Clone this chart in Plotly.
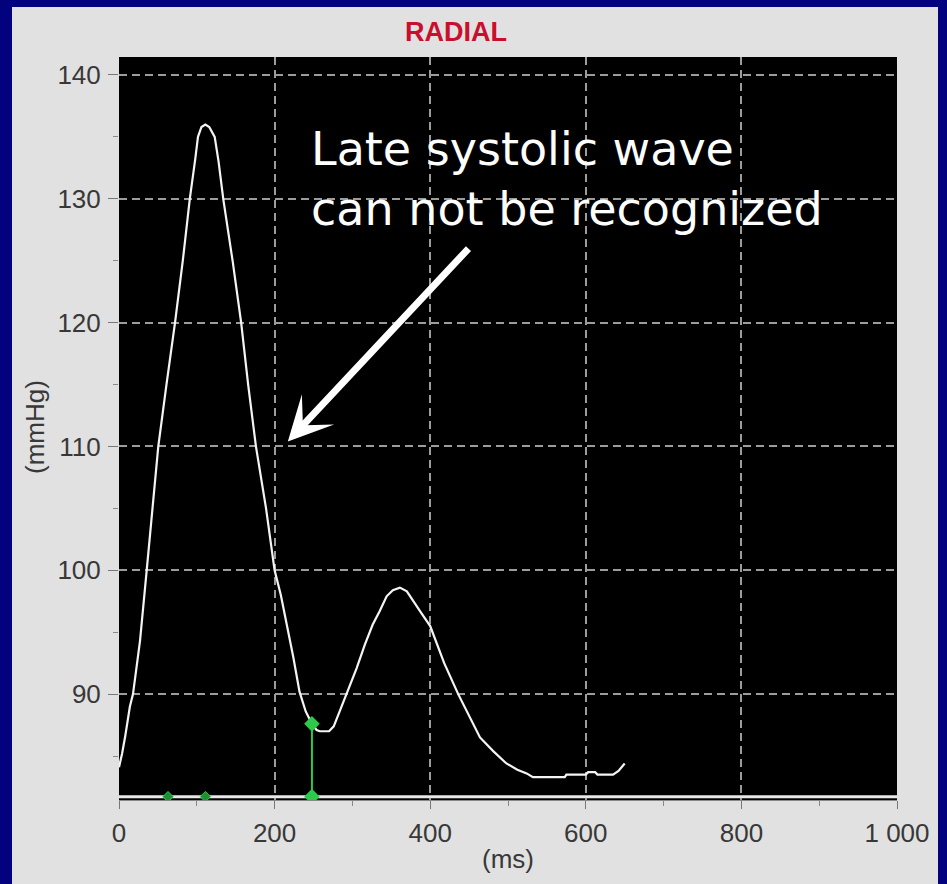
import plotly.graph_objects as go

# ---- data ----
time_ms = [0, 4, 8, 14, 18, 27, 35.6, 43, 50.5, 61, 72, 82, 91, 98, 101.5, 106, 111, 116, 123,
           128, 134, 146, 157, 166, 176, 189, 200, 208, 216, 224, 232, 240, 248, 254, 258, 270,
           276, 283, 292.6, 305.5, 316, 326, 335, 344, 352, 361, 370, 378, 388, 400, 418, 436,
           451, 464, 481, 498, 512, 524, 532, 573, 575, 600, 603, 612, 615, 635, 642, 650]
pressure = [84.1, 85.2, 86.6, 89.0, 90.0, 94.3, 100.0, 105.0, 110.0, 115.0, 120.0, 125.0, 130.0,
            133.2, 135.0, 135.8, 136.0, 135.8, 135.0, 133.0, 130.0, 125.0, 120.0, 115.0, 110.0,
            105.0, 100.0, 98.0, 95.6, 93.0, 90.2, 88.6, 87.6, 87.1, 87.0, 87.0, 87.4, 88.5, 90.0,
            92.1, 94.0, 95.6, 96.7, 97.9, 98.4, 98.6, 98.3, 97.5, 96.6, 95.5, 92.5, 90.0, 88.1,
            86.5, 85.4, 84.4, 83.9, 83.6, 83.3, 83.3, 83.5, 83.5, 83.7, 83.7, 83.5, 83.5, 83.8,
            84.4]

foot_marker_x = [248, 248]
foot_marker_y = [81.72, 87.6]
small_marker_x = [63, 111]
small_marker_y = [81.72, 81.72]
baseline_y = 81.72

x_tick_vals = [0, 200, 400, 600, 800, 1000]
x_tick_text = ["0", "200", "400", "600", "800", "1 000"]
y_tick_vals = [90, 100, 110, 120, 130, 140]

arrow_tail = (451, 126.1)
arrow_tip = (217, 110.4)
note_pos = (244, 131.6)

TICKFONT = dict(family="Liberation Sans, Arial, sans-serif", size=26, color="#383838")
GREEN = "#2ec94a"

fig = go.Figure()

fig.add_trace(go.Scatter(x=time_ms, y=pressure, mode="lines",
                         line=dict(color="#f4f4f4", width=2.2), hoverinfo="skip"))
fig.add_trace(go.Scatter(x=foot_marker_x, y=foot_marker_y, mode="lines+markers",
                         line=dict(color=GREEN, width=2),
                         marker=dict(symbol="diamond", size=12, color=GREEN)))
fig.add_trace(go.Scatter(x=small_marker_x, y=small_marker_y, mode="markers",
                         marker=dict(symbol="diamond", size=8, color="#1f8f35",
                                     line=dict(color=GREEN, width=1))))

fig.add_shape(type="line", xref="paper", yref="y", x0=0, x1=1, y0=baseline_y, y1=baseline_y,
              line=dict(color="#e8e8e8", width=3), layer="below")

# blue frame around the grey panel
NAVY = "#02027e"
fig.add_shape(type="rect", xref="paper", yref="paper", x0=-0.2, x1=1.1,
              y0=1 + 50 / 743, y1=1.2, fillcolor=NAVY, line=dict(width=0))
fig.add_shape(type="rect", xref="paper", yref="paper", x0=-0.2, x1=(12 - 119) / 778,
              y0=-0.2, y1=1.2, fillcolor=NAVY, line=dict(width=0))
fig.add_shape(type="rect", xref="paper", yref="paper", x0=(938 - 119) / 778, x1=1.2,
              y0=-0.2, y1=1.2, fillcolor=NAVY, line=dict(width=0))

fig.add_annotation(text="RADIAL", xref="paper", yref="paper", x=(456 - 119) / 778,
                   y=1 + (57 - 32) / 743, showarrow=False, xanchor="center", yanchor="middle",
                   font=dict(family="Liberation Sans, Arial", size=27, color="#c8102e",
                             weight="bold"))
fig.add_annotation(text="(mmHg)", xref="paper", yref="paper", x=(35 - 119) / 778, y=0.502,
                   textangle=-90, showarrow=False, xanchor="center", yanchor="middle",
                   font=TICKFONT)
fig.add_annotation(text="(ms)", xref="paper", yref="paper", x=0.5, y=-(859 - 800) / 743,
                   showarrow=False, xanchor="center", yanchor="middle", font=TICKFONT)

fig.add_annotation(text="Late systolic wave<br>can not be recognized", x=note_pos[0],
                   y=note_pos[1], xref="x", yref="y", showarrow=False, xanchor="left",
                   yanchor="middle", align="left",
                   font=dict(family="DejaVu Sans, Verdana, sans-serif", size=46, color="white"))
fig.add_annotation(text="", x=arrow_tip[0], y=arrow_tip[1], ax=arrow_tail[0], ay=arrow_tail[1],
                   xref="x", yref="y", axref="x", ayref="y", showarrow=True,
                   arrowhead=3, arrowsize=1.05, arrowwidth=7, arrowcolor="white")

grid = dict(showgrid=True, gridcolor="#9c9c9c", gridwidth=1.5, griddash="8px,5px")

fig.update_xaxes(range=[0, 1000], tickvals=x_tick_vals, ticktext=x_tick_text,
                 ticks="outside", ticklen=8, tickcolor="#777777", tickwidth=1,
                 minor=dict(dtick=100, tick0=0, ticks="outside", ticklen=5, tickcolor="#888888"),
                 tickfont=TICKFONT, showline=True, linecolor="#888888", linewidth=1, mirror=False,
                 zeroline=False, ticklabelstandoff=2, **grid)
fig.update_yaxes(range=[81.45, 141.45], tickvals=y_tick_vals,
                 ticks="outside", ticklen=10, tickcolor="#777777", tickwidth=1,
                 minor=dict(dtick=5, tick0=0, ticks="outside", ticklen=5, tickcolor="#888888"),
                 tickfont=TICKFONT, showline=False, zeroline=False, ticklabelstandoff=2, **grid)

fig.update_layout(width=947, height=884, margin=dict(l=119, r=50, t=57, b=84),
                  paper_bgcolor="#e1e1e1", plot_bgcolor="#000000", showlegend=False)

fig.write_html("out.html", config={"displayModeBar": False},
               post_script="document.body.style.margin='0';"
                           "document.body.style.overflow='hidden';"
                           "document.body.style.background='#02027e';")
